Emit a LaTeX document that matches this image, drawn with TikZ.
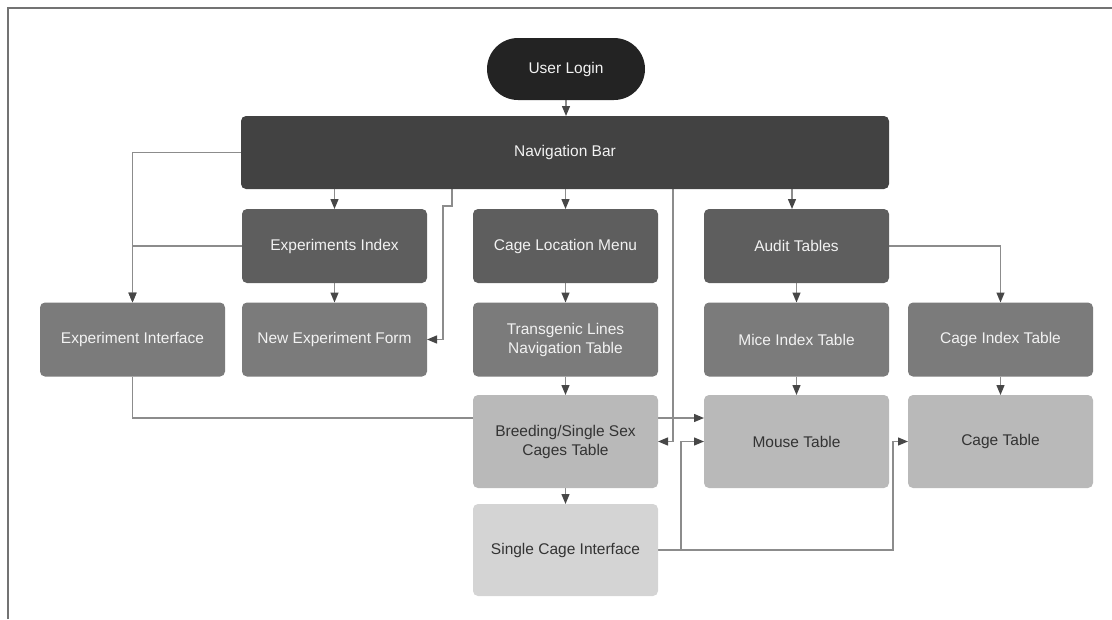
\documentclass[tikz,border=0pt]{standalone}
\usepackage{fontspec}
\setmainfont{Liberation Sans}
\usetikzlibrary{arrows.meta,calc}
\pgfdeclarelayer{bg}
\pgfsetlayers{bg,main}
\definecolor{cLogin}{HTML}{232323}
\definecolor{cNav}{HTML}{424242}
\definecolor{cTwo}{HTML}{5E5E5E}
\definecolor{cThree}{HTML}{7B7B7B}
\definecolor{cFour}{HTML}{B9B9B9}
\definecolor{cFive}{HTML}{D4D4D4}
\definecolor{cLightTxt}{HTML}{F2F2F2}
\definecolor{cDarkTxt}{HTML}{333333}
\definecolor{cLine}{HTML}{8C8C8C}
\definecolor{cTip}{HTML}{474747}
\definecolor{cFrame}{HTML}{737373}
\begin{document}
\begin{tikzpicture}[x=1pt,y=-1pt,
  box/.style={rectangle, rounded corners=5pt, inner sep=2pt, outer sep=0pt,
    minimum width=185pt, minimum height=74pt, align=center,
    font=\fontsize{15.5}{19}\selectfont},
  lvTwo/.style={box, fill=cTwo, text=cLightTxt},
  lvThree/.style={box, fill=cThree, text=cLightTxt},
  lvFour/.style={box, fill=cFour, text=cDarkTxt, minimum height=93pt},
  lvFive/.style={box, fill=cFive, text=cDarkTxt, minimum height=92pt},
  arr/.style={draw=cLine, line width=1.3pt,
    -{Triangle[length=10pt,width=8pt,color=cTip]}},
]
\useasboundingbox (0,0) rectangle (1112,619);
\draw[cFrame, line width=1.7pt] (8,619) -- (8,8) -- (1112,8);

\node[rectangle, rounded corners=31pt, fill=cLogin, text=cLightTxt,
  minimum width=158pt, minimum height=62pt, inner sep=2pt, outer sep=0pt,
  font=\fontsize{15.5}{19}\selectfont] (login) at (566,69) {User Login};
\node[box, fill=cNav, text=cLightTxt, minimum width=648pt, minimum height=73pt]
  (nav) at (565,152.5) {Navigation Bar};

\node[lvTwo] (expidx) at (334.5,246) {Experiments Index};
\node[lvTwo] (cageloc) at (565.5,246) {Cage Location Menu};
\node[lvTwo] (audit) at (796.5,246) {Audit Tables};

\node[lvThree] (expint) at (132.5,339.5) {Experiment Interface};
\node[lvThree] (newexp) at (334.5,339.5) {New Experiment Form};
\node[lvThree] (trans) at (565.5,339.5) {Transgenic Lines\\Navigation Table};
\node[lvThree] (mice) at (796.5,339.5) {Mice Index Table};
\node[lvThree] (cageidx) at (1000.5,339.5) {Cage Index Table};

\node[lvFour] (breed) at (565.5,441.5) {Breeding/Single Sex\\Cages Table};
\node[lvFour] (mouse) at (796.5,441.5) {Mouse Table};
\node[lvFour] (cagetab) at (1000.5,441.5) {Cage Table};

\node[lvFive] (single) at (565.5,550) {Single Cage Interface};

\begin{pgfonlayer}{bg}
\draw[arr] (login.south) -- (login.south |- nav.north);
\draw[arr] (nav.south -| expidx.north) -- (expidx.north);
\draw[arr] (nav.south -| cageloc.north) -- (cageloc.north);
\draw[arr] ($(nav.south -| audit.north)+(-4.5,0)$) -- ($(audit.north)+(-4.5,0)$);
\draw[arr] (nav.west) -| (expint.north);
\draw[arr] (expidx.west) -| (expint.north);
\draw[arr] (expidx.south) -- (newexp.north);
\draw[arr] ($(nav.south)+(-113,0)$) -- ++(0,17) -| ($(newexp.east)+(16,0)$) -- (newexp.east);
\draw[arr] ($(nav.south)+(108,0)$) |- (breed.east);
\draw[arr] (audit.east) -| (cageidx.north);
\draw[arr] (audit.south) -- (mice.north);
\draw[arr] (cageloc.south) -- (trans.north);
\draw[arr] (trans.south) -- (breed.north);
\draw[arr] (breed.south) -- (single.north);
\draw[arr] (mice.south) -- (mouse.north);
\draw[arr] (cageidx.south) -- (cagetab.north);
\draw[arr] (expint.south) |- ($(mouse.west)+(0,-23.5)$);
\draw[arr] (single.east) -| ($(mouse.west)+(-23,0)$) -- (mouse.west);
\draw[arr] (single.east) -| ($(cagetab.west)+(-15,0)$) -- (cagetab.west);
\end{pgfonlayer}
\end{tikzpicture}
\end{document}
